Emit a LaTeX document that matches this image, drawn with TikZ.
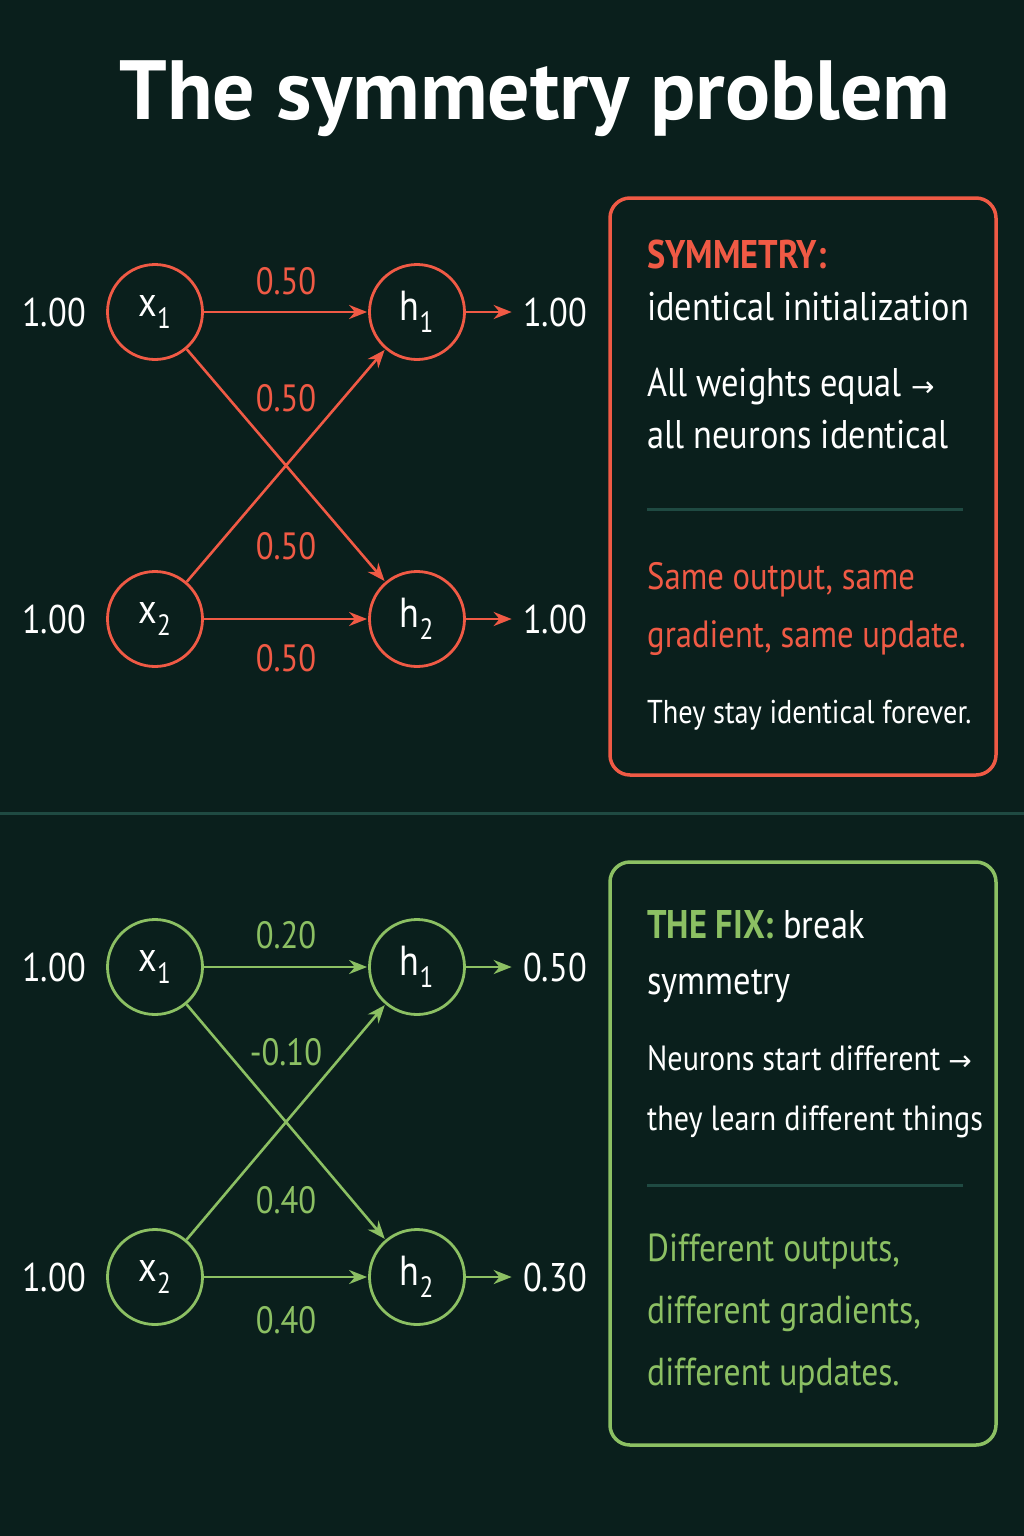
\documentclass[tikz,border=0pt]{standalone}
\usepackage{fontspec}
\setmainfont[FakeStretch=0.86]{PT Sans}
\newfontfamily\titlefont{PT Sans}
\usetikzlibrary{arrows.meta}
\definecolor{bg}{HTML}{0A1F1C}
\definecolor{rd}{HTML}{F05A45}
\definecolor{gn}{HTML}{8CC063}
\definecolor{dv}{HTML}{1F4A42}
\newcommand{\arr}{{\fontspec{DejaVu Sans}\fontsize{28}{28}\selectfont→}}
\begin{document}
\begin{tikzpicture}[x=1pt,y=-1pt,
 neu/.style={circle,draw=#1,line width=2.8pt,minimum size=95pt,inner sep=0pt,text=white,font=\fontsize{42}{42}\selectfont},
 con/.style={draw=#1,line width=2.6pt,-{Stealth[length=18pt,width=14pt]},shorten >=1pt},
 val/.style={text=white,font=\fontsize{40}{40}\selectfont},
 wl/.style={text=#1,font=\fontsize{38}{38}\selectfont},
 box/.style={draw=#1,line width=3.5pt,rounded corners=20pt},
 bt/.style={text=white,font=\fontsize{40}{46}\selectfont,anchor=north west,inner sep=0pt,align=left}]
\fill[bg] (0,0) rectangle (1024,1536);
\useasboundingbox (0,0) rectangle (1024,1536);
\node[text=white,font=\titlefont\bfseries\fontsize{84}{84}\selectfont] (title) at (535,99) {The symmetry problem};
% top network
\node[neu=rd] (a1) at (155,312) {x\textsubscript{1}};
\node[neu=rd] (b1) at (417,312) {h\textsubscript{1}};
\node[neu=rd] (a2) at (155,619) {x\textsubscript{2}};
\node[neu=rd] (b2) at (417,619) {h\textsubscript{2}};
\draw[con=rd] (a1) -- (b1);
\draw[con=rd] (a1) -- (b2);
\draw[con=rd] (a2) -- (b1);
\draw[con=rd] (a2) -- (b2);
\node[val] (i1) at (54,312) {1.00};
\node[val] (i2) at (54,619) {1.00};
\node[val] (o1) at (555,312) {1.00};
\node[val] (o2) at (555,619) {1.00};
\draw[con=rd,shorten >=8pt] (b1) -- (o1);
\draw[con=rd,shorten >=8pt] (b2) -- (o2);
\node[wl=rd] (w1) at (286,281) {0.50};
\node[wl=rd] (w2) at (286,398) {0.50};
\node[wl=rd] (w3) at (286,546) {0.50};
\node[wl=rd] (w4) at (286,658) {0.50};
\draw[box=rd] (610,198) rectangle (996,775);
\node[bt,text=rd,font=\bfseries\fontsize{40}{46}\selectfont] (t1) at (647,240) {SYMMETRY:};
\node[bt] (t2) at (647,292) {identical initialization};
\node[bt] (t3) at (647,368) {All weights equal \arr\\[6pt]all neurons identical};
\draw[dv,line width=3pt] (647,509) -- (963,509);
\node[bt,text=rd,font=\fontsize{38}{58}\selectfont] (t4) at (647,562) {Same output, same\\gradient, same update.};
\node[bt,font=\fontsize{33}{33}\selectfont] (t5) at (647,700) {They stay identical forever.};
\draw[dv,line width=3pt] (0,813) -- (1024,813);
% bottom network
\node[neu=gn] (c1) at (155,967) {x\textsubscript{1}};
\node[neu=gn] (d1) at (417,967) {h\textsubscript{1}};
\node[neu=gn] (c2) at (155,1277) {x\textsubscript{2}};
\node[neu=gn] (d2) at (417,1277) {h\textsubscript{2}};
\draw[con=gn] (c1) -- (d1);
\draw[con=gn] (c1) -- (d2);
\draw[con=gn] (c2) -- (d1);
\draw[con=gn] (c2) -- (d2);
\node[val] (j1) at (54,967) {1.00};
\node[val] (j2) at (54,1277) {1.00};
\node[val] (p1) at (555,967) {0.50};
\node[val] (p2) at (555,1277) {0.30};
\draw[con=gn,shorten >=8pt] (d1) -- (p1);
\draw[con=gn,shorten >=8pt] (d2) -- (p2);
\node[wl=gn] (v1) at (286,935) {0.20};
\node[wl=gn] (v2) at (286,1052) {-0.10};
\node[wl=gn] (v3) at (286,1200) {0.40};
\node[wl=gn] (v4) at (286,1320) {0.40};
\draw[box=gn] (610,862) rectangle (996,1445);
\node[bt,font=\fontsize{40}{56}\selectfont] (s1) at (647,910) {\textcolor{gn}{\bfseries THE FIX:} break\\symmetry};
\node[bt,font=\fontsize{35}{60}\selectfont] (s2) at (647,1045) {Neurons start different \arr\\they learn different things};
\draw[dv,line width=3pt] (647,1185) -- (963,1185);
\node[bt,text=gn,font=\fontsize{39}{62}\selectfont] (s3) at (647,1234) {Different outputs,\\different gradients,\\different updates.};
\end{tikzpicture}
\end{document}
